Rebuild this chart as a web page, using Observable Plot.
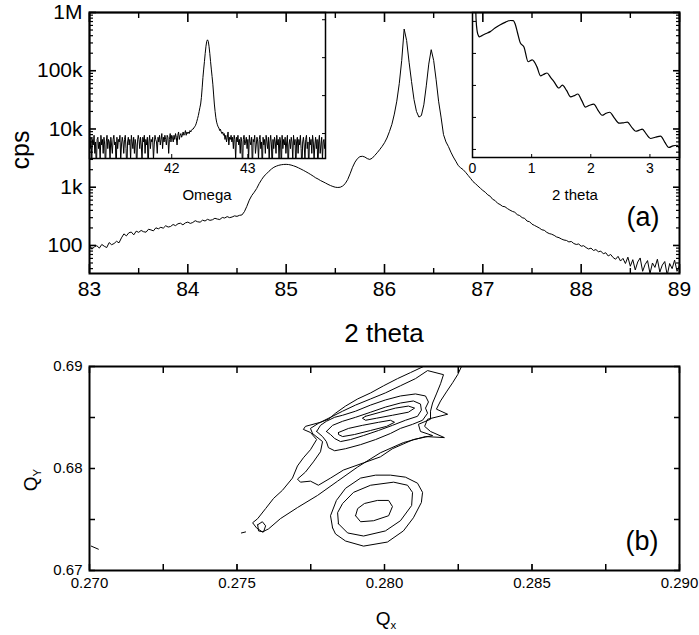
<!DOCTYPE html>
<html><head><meta charset="utf-8">
<script src="https://cdn.jsdelivr.net/npm/d3@7"></script>
<script src="https://cdn.jsdelivr.net/npm/@observablehq/plot@0.6"></script>
<style>
body{margin:0;background:#fff;}
#wrap{position:relative;width:699px;height:635px;overflow:hidden;font-family:"Liberation Sans",Arial,sans-serif;color:#000;background:#fff;}
#wrap svg{position:absolute;overflow:visible;}
.lbl{position:absolute;white-space:nowrap;transform:translate(-50%,-50%);line-height:1;}
.lbl sub{font-size:0.6em;vertical-align:-0.35em;}
</style></head><body><div id="wrap"></div>
<script>
// ---------- (a) main 2theta scan ----------
const mainStart = 83, mainStep = 0.025;
const mainCps = [
100,86,95,99,90,104,97,92,112,103,
108,118,111,135,158,146,165,170,152,176,
168,181,172,169,190,185,178,201,193,205,
198,218,207,212,229,219,236,241,226,244,
252,239,248,266,255,251,272,263,281,270,
276,293,284,279,302,296,313,300,308,322,
316,329,334,380,470,600,720,820,950,1150,
1350,1550,1700,1880,2050,2200,2300,2380,2430,2460,
2470,2450,2400,2330,2250,2150,2050,1950,1850,1750,
1650,1550,1450,1380,1300,1240,1180,1120,1070,1030,
1000,990,1000,1050,1150,1350,1700,2200,2700,3100,
3350,3400,3300,3100,3000,3150,3500,3900,4400,5000,
5800,7000,9000,12000,18000,30000,60000,150000,520000,330000,
140000,65000,32000,20000,16000,17000,26000,55000,130000,230000,
150000,70000,30000,16000,8000,6000,5000,4000,3300,2800,
2350,2150,2000,1800,1600,1420,1250,1150,1050,960,
880,820,740,700,620,590,530,505,470,462,
430,405,385,372,338,326,300,292,262,256,
232,221,210,199,186,182,168,160,156,149,
140,136,129,124,122,115,117,108,104,106,
97,99,92,87,90,82,85,78,80,72,
75,66,70,62,58,65,54,60,49,63,
44,57,38,52,61,36,47,55,33,50,
42,58,35,46,53,31,49,40,56,36,45
];
const mainXTicks = [83,84,85,86,87,88,89];
const mainXMinorTicks = [83.5,84.5,85.5,86.5,87.5,88.5];
const mainYTicks = [100,1000,10000,100000,1000000];
const mainYTickLabels = ["100","1k","10k","100k","1M"];

// ---------- inset: omega rocking curve ----------
const omegaStart = 40.92, omegaStep = 0.01;
const omegaCps = [
6,4,8,2,7,5,9,3,6,1,
7,8,4,6,2,9,5,7,3,8,
5,1,6,9,4,7,6,2,8,5,
3,7,9,5,6,1,8,4,7,6,
9,2,5,8,6,3,7,9,4,1,
6,8,5,7,2,9,6,4,8,3,
7,5,1,6,9,7,4,8,5,2,
8,6,9,3,7,5,8,1,6,9,
4,7,6,8,2,5,9,7,6,3,
8,6,9,5,7,10,4,8,6,9,
7,5,9,8,3,7,10,6,9,8,
6,9,7,10,8,5,9,11,7,9,
10,8,9,11,9,10,12,9,11,
10,11,10,12,11,12,13,13,14,15,16,18,21,25,30,38,48,60,90,160,
300,500,800,1300,2000,2700,2950,2700,2000,1300,800,500,320,200,110,60,
38,26,20,17,15,14,12,13,11,10,11,9,
10,7,9,6,8,11,5,8,7,9,
6,8,4,9,7,2,8,6,9,5,
7,3,8,6,1,7,9,5,6,8,
4,7,2,9,6,5,8,1,7,6,
9,3,5,8,6,2,7,9,4,6,
1,8,5,7,3,9,6,4,8,2,
6,9,5,1,7,4,8,6,3,9,
5,7,2,8,6,1,9,4,7,5,
8,3,6,9,1,5,7,4,8,6,
2,9,5,7,1,6,8,3,7,5,
9,4,1,6,8,5,2,7,9,4,
6,1,8,5,7,3,9,6,2,5,
8,4,7,1,6,9,3,5,8,2,
6,7,4,5
];
const omegaXTicks = [42,43];
const omegaYTicks = [10,100,1000,10000];

// ---------- inset: reflectivity ----------
const xrrTheta = [0.05,0.06,0.08,0.10,0.12,0.16,0.22,0.30,0.38,0.47,0.56,0.64,0.69,0.72,0.76,0.81,0.87,0.94,1.01,1.09,1.15,1.20,1.26,1.32,1.38,1.46,1.52,1.59,1.66,1.72,1.78,1.85,1.91,1.98,2.05,2.12,2.19,2.26,2.32,2.40,2.48,2.55,2.62,2.69,2.76,2.82,2.87,2.94,3.01,3.09,3.18,3.25,3.32,3.39,3.46,3.50];
const xrrCps = [400000,120000,48000,36000,33000,36000,41000,48000,62000,79000,95000,107000,106000,85000,45000,21000,16000,5500,6300,3800,2000,2200,2450,1800,1290,830,1020,700,440,480,540,330,210,240,260,170,117,135,145,95,66,68,71,50,37,40,43,30,22,24,26,17,11.5,13,13.5,11];
const xrrXTicks = [0,1,2,3];
const xrrYTicks = [10,100,1000,10000,100000];

// ---------- (b) reciprocal space map ----------
const qxTicks = [0.270,0.2725,0.275,0.2775,0.280,0.2825,0.285,0.2875,0.290];
const qxLabelTicks = [0.270,0.275,0.280,0.285,0.290];
const qyTicks = [0.670,0.675,0.680,0.685,0.690];
const qyLabelTicks = [0.670,0.680,0.690];

const contourOuter = [[0.28132,0.69000],[0.28088,0.68940],[0.28044,0.68881],[0.27997,0.68811],[0.27953,0.68741],[0.27909,0.68682],[0.27868,0.68612],[0.27834,0.68542],[0.27810,0.68483],[0.27783,0.68453],[0.27732,0.68413],[0.27725,0.68383],[0.27749,0.68353],[0.27770,0.68284],[0.27749,0.68184],[0.27725,0.68105],[0.27705,0.68025],[0.27688,0.67906],[0.27654,0.67786],[0.27624,0.67707],[0.27597,0.67607],[0.27570,0.67508],[0.27553,0.67468],[0.27566,0.67418],[0.27586,0.67378],[0.27607,0.67408],[0.27647,0.67508],[0.27705,0.67617],[0.27773,0.67736],[0.27841,0.67876],[0.27909,0.68015],[0.27986,0.68154],[0.28064,0.68254],[0.28139,0.68313],[0.28203,0.68303],[0.28156,0.68363],[0.28136,0.68413],[0.28146,0.68483],[0.28214,0.68532],[0.28176,0.68582],[0.28190,0.68662],[0.28210,0.68751],[0.28231,0.68841],[0.28248,0.68920],[0.28261,0.69000]];
const contour2 = [[0.27756,0.68343],[0.27790,0.68264],[0.27783,0.68164],[0.27759,0.68065],[0.27732,0.67965],[0.27705,0.67896],[0.27715,0.67866],[0.27749,0.67876],[0.27776,0.67836],[0.27817,0.67906],[0.27861,0.67985],[0.27929,0.68055],[0.27986,0.68114],[0.28027,0.68194],[0.28098,0.68284],[0.28163,0.68323],[0.28122,0.68363],[0.28115,0.68433],[0.28156,0.68483],[0.28156,0.68562],[0.28163,0.68642],[0.28176,0.68731],[0.28190,0.68831],[0.28200,0.68920],[0.28146,0.68960],[0.28105,0.68881],[0.28054,0.68811],[0.28003,0.68741],[0.27953,0.68682],[0.27902,0.68622],[0.27858,0.68562],[0.27817,0.68502],[0.27776,0.68443],[0.27749,0.68393],[0.27756,0.68343]];
const contour3 = [[0.27770,0.68363],[0.27783,0.68423],[0.27803,0.68463],[0.27831,0.68502],[0.27858,0.68522],[0.27902,0.68562],[0.27953,0.68622],[0.28003,0.68672],[0.28054,0.68711],[0.28105,0.68731],[0.28139,0.68711],[0.28149,0.68652],[0.28139,0.68592],[0.28146,0.68542],[0.28129,0.68473],[0.28095,0.68433],[0.28054,0.68393],[0.28020,0.68343],[0.27970,0.68284],[0.27919,0.68234],[0.27868,0.68194],[0.27831,0.68174],[0.27810,0.68204],[0.27803,0.68264],[0.27790,0.68313],[0.27770,0.68363]];
const contour4 = [[0.27803,0.68363],[0.27824,0.68423],[0.27858,0.68463],[0.27902,0.68502],[0.27953,0.68552],[0.28003,0.68602],[0.28054,0.68642],[0.28098,0.68662],[0.28122,0.68632],[0.28125,0.68572],[0.28112,0.68512],[0.28071,0.68473],[0.28027,0.68423],[0.27980,0.68373],[0.27929,0.68323],[0.27885,0.68284],[0.27851,0.68264],[0.27831,0.68294],[0.27817,0.68333],[0.27803,0.68363]];
const contour5 = [[0.27936,0.68512],[0.27986,0.68552],[0.28037,0.68592],[0.28081,0.68612],[0.28102,0.68592],[0.28081,0.68552],[0.28027,0.68522],[0.27973,0.68493],[0.27936,0.68473],[0.27925,0.68493],[0.27936,0.68512]];
const contour6 = [[0.27844,0.68353],[0.27878,0.68393],[0.27925,0.68423],[0.27980,0.68453],[0.28020,0.68473],[0.28034,0.68453],[0.28007,0.68413],[0.27953,0.68373],[0.27898,0.68333],[0.27858,0.68313],[0.27844,0.68333],[0.27844,0.68353]];
const contourTailLoop = [[0.27570,0.67448],[0.27586,0.67478],[0.27597,0.67438],[0.27590,0.67378],[0.27573,0.67388],[0.27570,0.67448]];
const contourTailDash = [[0.27515,0.67368],[0.27529,0.67378]];
const contourCornerDash = [[0.27006,0.67239],[0.27030,0.67209]];
const ellipse1 = [[0.27824,0.67418],[0.27817,0.67537],[0.27837,0.67687],[0.27868,0.67806],[0.27919,0.67906],[0.27970,0.67935],[0.28020,0.67935],[0.28071,0.67915],[0.28112,0.67856],[0.28129,0.67766],[0.28125,0.67667],[0.28098,0.67517],[0.28064,0.67388],[0.28010,0.67279],[0.27929,0.67239],[0.27868,0.67289],[0.27834,0.67358],[0.27824,0.67418]];
const ellipse2 = [[0.27844,0.67458],[0.27841,0.67567],[0.27858,0.67657],[0.27895,0.67766],[0.27953,0.67836],[0.28031,0.67866],[0.28078,0.67836],[0.28095,0.67766],[0.28092,0.67637],[0.28054,0.67488],[0.28003,0.67388],[0.27929,0.67338],[0.27875,0.67368],[0.27844,0.67458]];
const ellipse3 = [[0.27902,0.67537],[0.27909,0.67607],[0.27932,0.67657],[0.27976,0.67687],[0.28014,0.67687],[0.28027,0.67627],[0.28014,0.67537],[0.27963,0.67488],[0.27919,0.67478],[0.27902,0.67537]];
const contours = [contourOuter, contour2, contour3, contour4, contour5, contour6, contourTailLoop, contourTailDash, contourCornerDash, ellipse1, ellipse2, ellipse3];

// ---------- build ----------
const wrap = document.getElementById("wrap");
const FONT = '"Liberation Sans", Arial, sans-serif';
const baseStyle = {background: "none", overflow: "visible", fontFamily: FONT, color: "black"};
function place(svg, left, top) { svg.style.left = left + "px"; svg.style.top = top + "px"; wrap.appendChild(svg); }
function label(html, x, y, size, extra = "") {
  const d = document.createElement("div");
  d.className = "lbl"; d.innerHTML = html;
  d.style.left = x + "px"; d.style.top = y + "px"; d.style.fontSize = size + "px";
  if (extra) d.style.transform = "translate(-50%,-50%) " + extra;
  wrap.appendChild(d);
}
const blank = () => "";

const mainData = mainCps.map((v, i) => ({t: mainStart + i * mainStep, c: v}));
const mainYMinor = [];
for (let e = 1; e < 6; e++) for (let m = 2; m <= 9; m++) { const v = m * 10 ** e; if (v >= 33) mainYMinor.push(v); }
const mainYLabel = new Map(mainYTicks.map((t, i) => [t, mainYTickLabels[i]]));

const mainPlot = Plot.plot({
  width: 699, height: 350,
  marginLeft: 89, marginRight: 20, marginTop: 12, marginBottom: 77,
  x: {domain: [83, 89]},
  y: {type: "log", domain: [33, 1e6]},
  style: baseStyle,
  marks: [
    Plot.line(mainData, {x: "t", y: "c", stroke: "black", strokeWidth: 1, clip: true}),
    Plot.axisX(mainXTicks, {anchor: "bottom", tickSize: -9, tickPadding: 17, fontSize: 21, strokeWidth: 1.6, tickFormat: d => String(d), label: null}),
    Plot.axisX(mainXMinorTicks, {anchor: "bottom", tickSize: -5, strokeWidth: 1.4, tickFormat: blank, label: null}),
    Plot.axisX(mainXTicks, {anchor: "top", tickSize: -9, strokeWidth: 1.6, tickFormat: blank, label: null}),
    Plot.axisX(mainXMinorTicks, {anchor: "top", tickSize: -5, strokeWidth: 1.4, tickFormat: blank, label: null}),
    Plot.axisY(mainYTicks, {anchor: "left", tickSize: -7, tickPadding: 14, fontSize: 21, strokeWidth: 1.6, tickFormat: d => mainYLabel.get(d), label: null}),
    Plot.axisY(mainYMinor, {anchor: "left", tickSize: -4, strokeWidth: 1.2, tickFormat: blank, label: null}),
    Plot.axisY(mainYTicks, {anchor: "right", tickSize: -7, strokeWidth: 1.6, tickFormat: blank, label: null}),
    Plot.axisY(mainYMinor, {anchor: "right", tickSize: -4, strokeWidth: 1.2, tickFormat: blank, label: null}),
    Plot.frame({stroke: "black", strokeWidth: 2})
  ]
});
place(mainPlot, 0, 0);

const omegaData = omegaCps.map((v, i) => ({w: omegaStart + i * omegaStep, c: v}));
const omegaPlot = Plot.plot({
  width: 236, height: 191,
  marginLeft: 0, marginRight: 0, marginTop: 0, marginBottom: 45,
  x: {domain: [40.92, 44.02]},
  y: {type: "log", domain: [2.2, 15500]},
  style: baseStyle,
  marks: [
    Plot.line(omegaData, {x: "w", y: "c", stroke: "black", strokeWidth: 1, clip: true}),
    Plot.axisX(omegaXTicks, {anchor: "bottom", tickSize: -4, tickPadding: 9, fontSize: 14, tickFormat: d => String(d), label: null}),
    Plot.axisY(omegaYTicks, {anchor: "right", tickSize: -4, tickFormat: blank, label: null}),
    Plot.frame({stroke: "black", strokeWidth: 1.5})
  ]
});
place(omegaPlot, 89, 12);

const xrrData = xrrTheta.map((t, i) => ({t, c: xrrCps[i]}));
const xrrPlot = Plot.plot({
  width: 207, height: 190,
  marginLeft: 0, marginRight: 0, marginTop: 0, marginBottom: 45,
  x: {domain: [0, 3.5]},
  y: {type: "log", domain: [5.6, 190000]},
  style: baseStyle,
  marks: [
    Plot.line(xrrData, {x: "t", y: "c", stroke: "black", strokeWidth: 1.2, curve: "monotone-x", clip: true}),
    Plot.axisX(xrrXTicks, {anchor: "bottom", tickSize: -3, tickPadding: 9, fontSize: 14, tickFormat: d => String(d), label: null}),
    Plot.axisY(xrrYTicks, {anchor: "left", tickSize: -4, tickFormat: blank, label: null}),
    Plot.frame({stroke: "black", strokeWidth: 1.5})
  ]
});
place(xrrPlot, 472, 12);

const mapPlot = Plot.plot({
  width: 699, height: 285,
  marginLeft: 89, marginRight: 20, marginTop: 16, marginBottom: 65,
  x: {domain: [0.270, 0.290]},
  y: {domain: [0.670, 0.690]},
  style: baseStyle,
  marks: [
    ...contours.map(c => Plot.line(c, {x: d => d[0], y: d => d[1], stroke: "black", strokeWidth: 1, clip: true})),
    Plot.axisX(qxLabelTicks, {anchor: "bottom", tickSize: -6, tickPadding: 13, fontSize: 15, tickFormat: d3.format(".3f"), label: null}),
    Plot.axisX(qxTicks, {anchor: "bottom", tickSize: -6, strokeWidth: 1.5, tickFormat: blank, label: null}),
    Plot.axisX(qxTicks, {anchor: "top", tickSize: -6, strokeWidth: 1.5, tickFormat: blank, label: null}),
    Plot.axisY(qyLabelTicks, {anchor: "left", tickSize: -6, tickPadding: 13, fontSize: 15, tickFormat: d3.format(".2f"), label: null}),
    Plot.axisY(qyTicks, {anchor: "left", tickSize: -6, strokeWidth: 1.5, tickFormat: blank, label: null}),
    Plot.axisY(qyTicks, {anchor: "right", tickSize: -6, strokeWidth: 1.5, tickFormat: blank, label: null}),
    Plot.frame({stroke: "black", strokeWidth: 2})
  ]
});
place(mapPlot, 0, 350);

// ---------- texts ----------
label("cps", 20, 150, 25, "rotate(-90deg)");
label("2 theta", 384, 333, 26);
label("Omega", 207, 194, 15);
label("2 theta", 575, 194, 15);
label("(a)", 643, 217, 27);
label("(b)", 642, 541, 27);
label("Q<sub>x</sub>", 386, 620, 19);
label("Q<sub>Y</sub>", 32, 480, 19, "rotate(-90deg)");
</script></body></html>
